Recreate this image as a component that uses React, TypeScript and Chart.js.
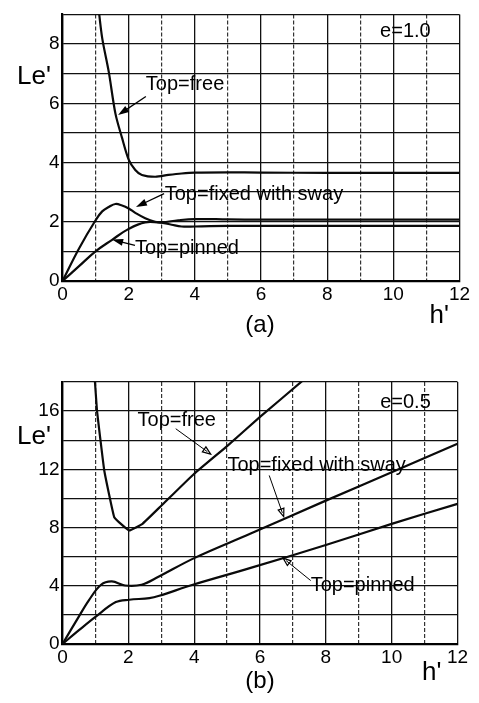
import React, { useEffect, useRef } from 'react';
import { Chart, registerables } from 'chart.js';

Chart.register(...registerables);

const FONT = '"Liberation Sans", Arial, Helvetica, sans-serif';

// ---------- Data: chart (a), e = 1.0 ----------
const xLabelValues = [0, 2, 4, 6, 8, 10, 12];
const yLabelValuesA = [0, 2, 4, 6, 8];
const yLabelValuesB = [0, 4, 8, 12, 16];

const freeAX = [1.08, 1.2, 1.4, 1.6, 1.8, 2.0, 2.2, 2.4, 2.8, 3.2, 3.6, 4.0, 5.0, 6, 8, 10, 12];
const freeAY = [9.3, 8.2, 7.05, 5.65, 4.83, 4.1, 3.75, 3.58, 3.52, 3.58, 3.63, 3.66, 3.67, 3.66, 3.65, 3.65, 3.65];

const swayAX = [0, 0.5, 1.0, 1.2, 1.4, 1.6, 1.8, 2.0, 2.2, 2.5, 2.8, 3.0, 3.3, 3.6, 4.0, 5, 6, 8, 10, 12];
const swayAY = [0, 1.1, 2.05, 2.35, 2.5, 2.6, 2.55, 2.45, 2.3, 2.12, 2.0, 1.97, 1.9, 1.84, 1.84, 1.86, 1.86, 1.86, 1.86, 1.86];

const pinnedAX = [0, 0.5, 1.0, 1.5, 2.0, 2.5, 3.0, 3.5, 4.0, 5, 6, 8, 10, 12];
const pinnedAY = [0, 0.5, 1.0, 1.39, 1.76, 1.98, 1.98, 2.05, 2.09, 2.08, 2.07, 2.07, 2.07, 2.07];

// ---------- Data: chart (b), e = 0.5 ----------
const freeBX = [0.98, 1.05, 1.27, 1.57, 1.8, 2.03, 2.43, 3.0, 4.0, 5.0, 6.0, 7.3];
const freeBY = [18.2, 16, 11.9, 8.72, 8.2, 7.8, 8.26, 9.5, 11.7, 13.6, 15.6, 18.1];

const swayBX = [0, 0.5, 0.8, 1.17, 1.5, 1.9, 2.4, 2.9, 4.0, 5.7, 8, 10, 12];
const swayBY = [0, 1.9, 3.0, 4.07, 4.3, 4.02, 4.07, 4.6, 5.9, 7.57, 9.85, 11.8, 13.76];

const pinnedBX = [0, 0.5, 1.02, 1.62, 2.03, 2.64, 2.94, 3.96, 5.69, 8, 10, 12];
const pinnedBY = [0, 0.95, 1.9, 2.88, 3.04, 3.15, 3.31, 4.07, 5.21, 6.8, 8.25, 9.63];

type Txt = { text: string; x: number; y: number };
type Arrow = { from: [number, number]; to: [number, number] };

interface PanelCfg {
  height: number;
  top: number;
  yMax: number;
  yStep: number;
  yLabels: number[];
  padTop: number;
  padRight: number;
  xAxisHeight: number;
  series: { x: number[]; y: number[]; tension: number }[];
  texts: Txt[];
  arrows: Arrow[];
  filledHead: boolean;
  leY: number;
  hOffX: number;
  hBase: number;
  caption: string;
  capBase: number;
}

const panelA: PanelCfg = {
  height: 345,
  top: 0,
  yMax: 9,
  yStep: 1,
  yLabels: yLabelValuesA,
  padTop: 9.5,
  padRight: 19.5,
  xAxisHeight: 345 - 281,
  series: [
    { x: freeAX, y: freeAY, tension: 0.3 },
    { x: swayAX, y: swayAY, tension: 0.4 },
    { x: pinnedAX, y: pinnedAY, tension: 0.4 },
  ],
  texts: [
    { text: 'Top=free', x: 2.52, y: 6.64 },
    { text: 'Top=fixed with sway', x: 3.09, y: 2.92 },
    { text: 'Top=pinned', x: 2.19, y: 1.1 },
    { text: 'e=1.0', x: 9.6, y: 8.43 },
  ],
  arrows: [
    { from: [2.52, 6.23], to: [1.68, 5.6] },
    { from: [3.07, 2.95], to: [2.22, 2.5] },
    { from: [2.19, 1.2], to: [1.5, 1.4] },
  ],
  filledHead: true,
  leY: 6.9,
  hOffX: -30,
  hBase: 42,
  caption: '(a)',
  capBase: 51,
};

const panelB: PanelCfg = {
  height: 358,
  top: 345,
  yMax: 18,
  yStep: 2,
  yLabels: yLabelValuesB,
  padTop: 37,
  padRight: 21.5,
  xAxisHeight: 358 - 299,
  series: [
    { x: freeBX, y: freeBY, tension: 0.1 },
    { x: swayBX, y: swayBY, tension: 0.35 },
    { x: pinnedBX, y: pinnedBY, tension: 0.35 },
  ],
  texts: [
    { text: 'Top=free', x: 2.28, y: 15.37 },
    { text: 'Top=fixed with sway', x: 5.01, y: 12.27 },
    { text: 'Top=pinned', x: 7.54, y: 4.01 },
    { text: 'e=0.5', x: 9.65, y: 16.58 },
  ],
  arrows: [
    { from: [3.44, 14.79], to: [4.5, 13.05] },
    { from: [6.28, 11.58], to: [6.72, 8.75] },
    { from: [7.54, 4.36], to: [6.7, 5.9] },
  ],
  filledHead: false,
  leY: 14.2,
  hOffX: -35.5,
  hBase: 36,
  caption: '(b)',
  capBase: 44,
};

function makePlugin(cfg: PanelCfg) {
  return {
    id: 'annot',
    afterDraw(chart: any) {
      const { ctx, chartArea } = chart;
      const xs = chart.scales.x;
      const ys = chart.scales.y;
      ctx.save();
      ctx.fillStyle = '#000';
      ctx.strokeStyle = '#000';
      // texts
      ctx.font = `20px ${FONT}`;
      ctx.textAlign = 'left';
      ctx.textBaseline = 'middle';
      cfg.texts.forEach((t) => {
        ctx.fillText(t.text, xs.getPixelForValue(t.x), ys.getPixelForValue(t.y));
      });
      // arrows
      cfg.arrows.forEach((a) => {
        const x1 = xs.getPixelForValue(a.from[0]);
        const y1 = ys.getPixelForValue(a.from[1]);
        const x2 = xs.getPixelForValue(a.to[0]);
        const y2 = ys.getPixelForValue(a.to[1]);
        const ang = Math.atan2(y2 - y1, x2 - x1);
        ctx.lineWidth = cfg.filledHead ? 1.3 : 1;
        ctx.beginPath();
        ctx.moveTo(x1, y1);
        ctx.lineTo(x2 - Math.cos(ang) * 4, y2 - Math.sin(ang) * 4);
        ctx.stroke();
        const L = cfg.filledHead ? 11 : 8;
        const W = cfg.filledHead ? 3.5 : 3;
        const bx = x2 - Math.cos(ang) * L;
        const by = y2 - Math.sin(ang) * L;
        const px = -Math.sin(ang) * W;
        const py = Math.cos(ang) * W;
        ctx.beginPath();
        ctx.moveTo(x2, y2);
        ctx.lineTo(bx + px, by + py);
        ctx.lineTo(bx - px, by - py);
        ctx.closePath();
        if (cfg.filledHead) ctx.fill();
        else {
          ctx.lineWidth = 1.2;
          ctx.stroke();
        }
      });
      // axis labels
      ctx.font = `26px ${FONT}`;
      ctx.textBaseline = 'middle';
      ctx.fillText("Le'", chartArea.left - 45.5, ys.getPixelForValue(cfg.leY));
      ctx.textBaseline = 'alphabetic';
      ctx.fillText("h'", chartArea.right + cfg.hOffX, chartArea.bottom + cfg.hBase);
      ctx.font = `24px ${FONT}`;
      ctx.textAlign = 'center';
      ctx.fillText(cfg.caption, 260, chartArea.bottom + cfg.capBase);
      ctx.restore();
    },
  };
}

function Panel({ cfg }: { cfg: PanelCfg }) {
  const ref = useRef<HTMLCanvasElement>(null);
  useEffect(() => {
    if (!ref.current) return;
    const chart = new Chart(ref.current, {
      type: 'line',
      data: {
        datasets: cfg.series.map((s) => ({
          data: s.x.map((x, i) => ({ x, y: s.y[i] })),
          borderColor: '#0a0a0a',
          borderWidth: 2.2,
          pointRadius: 0,
          tension: s.tension,
          fill: false,
          clip: 0,
        })),
      },
      options: {
        animation: false,
        responsive: false,
        maintainAspectRatio: false,
        layout: { padding: { top: cfg.padTop, right: cfg.padRight, left: 0, bottom: 0 } },
        plugins: { legend: { display: false }, tooltip: { enabled: false }, title: { display: false } },
        scales: {
          x: {
            type: 'linear',
            min: 0,
            max: 12,
            ticks: {
              stepSize: 1,
              autoSkip: false,
              maxRotation: 0,
              padding: 2,
              color: '#000',
              font: { family: FONT, size: 19 },
              callback: (v: any) => (xLabelValues.includes(Number(v)) ? String(v) : ''),
            },
            grid: {
              drawTicks: false,
              lineWidth: 1.3,
              color: (c: any) => (c.tick && c.tick.value % 2 === 0 ? '#111' : 'rgba(0,0,0,0)'),
            },
            border: { color: '#000', width: 2.2 },
            afterFit: (s: any) => {
              s.height = cfg.xAxisHeight;
            },
          },
          x2: {
            type: 'linear',
            position: 'bottom',
            min: 0,
            max: 12,
            ticks: { stepSize: 1, display: false, autoSkip: false },
            grid: {
              drawTicks: false,
              lineWidth: 1.2,
              color: (c: any) => (c.tick && c.tick.value % 2 !== 0 ? '#333' : 'rgba(0,0,0,0)'),
            },
            border: { display: false, dash: [4, 2] },
            afterFit: (s: any) => {
              s.height = 0;
            },
          },
          y: {
            type: 'linear',
            min: 0,
            max: cfg.yMax,
            ticks: {
              stepSize: cfg.yStep,
              autoSkip: false,
              padding: 3,
              color: '#000',
              font: { family: FONT, size: 19 },
              callback: (v: any) => (cfg.yLabels.includes(Number(v)) ? String(v) : ''),
            },
            grid: { drawTicks: false, lineWidth: 1.3, color: '#111' },
            border: { color: '#000', width: 2.2 },
            afterFit: (s: any) => {
              s.width = 62.5;
            },
          },
        },
      },
      plugins: [makePlugin(cfg)],
    } as any);
    return () => chart.destroy();
  }, [cfg]);
  return (
    <canvas
      ref={ref}
      width={479}
      height={cfg.height}
      style={{ position: 'absolute', left: 0, top: cfg.top, width: 479, height: cfg.height }}
    />
  );
}

export default function App() {
  return (
    <div style={{ position: 'absolute', left: 0, top: 0, width: 479, height: 703, background: '#fff' }}>
      <Panel cfg={panelA} />
      <Panel cfg={panelB} />
    </div>
  );
}
